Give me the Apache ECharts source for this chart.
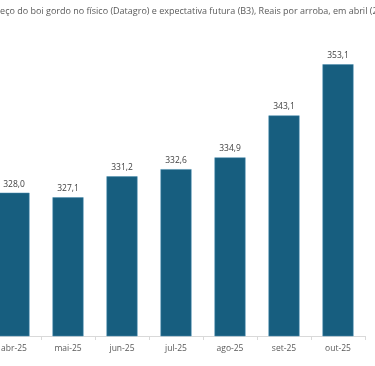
<!DOCTYPE html>
<html><head><meta charset="utf-8">
<script src="https://cdn.jsdelivr.net/npm/echarts@6/dist/echarts.min.js"></script>
<style>html,body{margin:0;padding:0;background:#fff;overflow:hidden}#c{position:absolute;left:-13.5px;top:0;width:392px;height:366px}</style>
</head><body><div id="c"></div>
<script>
const titleText = "Preço do boi gordo no físico (Datagro) e expectativa futura (B3), Reais por arroba, em abril (2025)";
const categories = ["abr-25","mai-25","jun-25","jul-25","ago-25","set-25","out-25"];
const values = [328.0, 327.1, 331.2, 332.6, 334.9, 343.1, 353.1];
const yMin = 300, yMax = 360;

const chart = echarts.init(document.getElementById('c'));
chart.setOption({
  animation:false,
  backgroundColor:'#fff',
  title:{text:titleText,left:4,top:7,padding:0,textStyle:{fontFamily:'Open Sans',fontSize:9,fontWeight:'normal',color:'#595959'}},
  grid:{left:0,width:378,top:29,bottom:30,containLabel:false},
  xAxis:{type:'category',data:categories,
    axisLine:{lineStyle:{color:'#d9d9d9'}},
    axisTick:{show:true,length:4,lineStyle:{color:'#d9d9d9'}},
    axisLabel:{color:'#595959',fontFamily:'Open Sans',fontSize:8.5,margin:8}},
  yAxis:{type:'value',min:yMin,max:yMax,show:false,splitLine:{show:false}},
  series:[{type:'bar',data:values,barWidth:31,
    itemStyle:{color:'#175E7F',borderColor:'#4a8fb0',borderWidth:0.5},
    label:{show:true,position:'top',distance:4,color:'#404040',fontFamily:'Open Sans',fontSize:8.5,
      formatter:p=>p.value.toFixed(1).replace('.',',')}}]
});
</script></body></html>
